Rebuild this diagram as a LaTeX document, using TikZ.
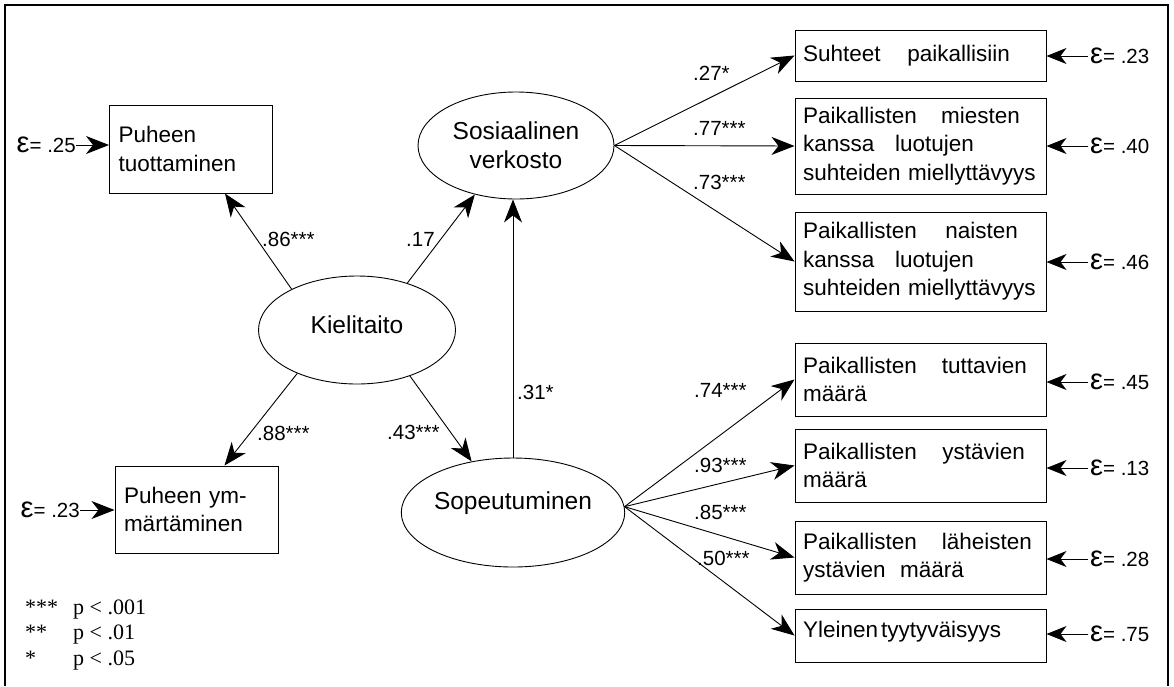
\documentclass[tikz,border=0pt]{standalone}
\usepackage{fontspec}
\setmainfont{Liberation Sans}
\newfontfamily\lserif{Liberation Serif}
\usetikzlibrary{arrows.meta,shapes.geometric,calc}
\newcommand{\epsg}{{\fontsize{29}{29}\selectfont ε}}
\newcommand{\jline}[3]{\makebox[#1][l]{#2\hfill#3}}
\begin{document}
\begin{tikzpicture}[x=1pt,y=-1pt,
  every node/.style={font=\fontsize{22.5}{28.5}\selectfont},
  box/.style={draw, line width=1pt, inner xsep=8pt, inner ysep=0pt, align=left, text width=235pt, minimum width=251pt},
  lbox/.style={draw, line width=1pt, inner xsep=9pt, inner ysep=0pt, align=left, text width=145pt, minimum width=163pt},
  ell/.style={ellipse, draw, line width=0.9pt, inner sep=0pt, minimum width=197pt, minimum height=108pt, align=center, font=\fontsize{24.5}{29}\selectfont},
  lab/.style={anchor=west, inner sep=0pt, font=\fontsize{20.5}{20.5}\selectfont},
  eps/.style={inner sep=0pt, font=\fontsize{20.5}{20.5}\selectfont},
  leg/.style={anchor=base west, inner sep=0pt, font=\lserif\fontsize{22}{22}\selectfont},
  arr/.style={-{Stealth[length=23pt,width=18pt,inset=7pt]}, line width=0.9pt},
  earr/.style={-{Stealth[length=20pt,width=16pt,inset=6pt]}, line width=0.9pt}
]
\path[use as bounding box] (0,0) rectangle (1174,686);
\draw[line width=1.2pt] (5,686) -- (5,5) -- (1168,5) -- (1168,686);

% left boxes
\node[lbox, minimum height=88pt] (tuot) at (191,149) {Puheen\\tuottaminen};
\node[lbox, minimum height=87pt] (ymm) at (196.5,509.5) {Puheen ym-\\märtäminen};

% ellipses
\node[ell] (kiel) at (357,330) {\raisebox{5pt}[\height][\depth]{Kielitaito}};
\node[ell, minimum width=196pt, minimum height=107pt] (sos) at (516,145.5) {Sosiaalinen\\verkosto};
\node[ell, minimum height=109pt] (sop) at (513,512.5) {\raisebox{9pt}[\height][\depth]{Sopeutuminen}};

% right boxes
\node[box, minimum height=51pt] (r1) at (920.5,55.5) {\jline{207pt}{Suhteet}{paikallisiin}};
\node[box, minimum height=96pt] (r2) at (920.5,146) {\jline{217pt}{Paikallisten}{miesten}\\\jline{171pt}{kanssa}{luotujen}\\suhteiden miellyttävyys};
\node[box, minimum height=99pt] (r3) at (920.5,261.5) {\jline{215pt}{Paikallisten}{naisten}\\\jline{171pt}{kanssa}{luotujen}\\suhteiden miellyttävyys};
\node[box, minimum height=73pt] (r4) at (920.5,379.5) {\jline{224pt}{Paikallisten}{tuttavien}\\määrä};
\node[box, minimum height=73pt] (r5) at (920.5,465.5) {\jline{222pt}{Paikallisten}{ystävien}\\määrä};
\node[box, minimum height=73pt] (r6) at (920.5,557.5) {\jline{229pt}{Paikallisten}{läheisten}\\\jline{161pt}{ystävien}{määrä}};
\node[box, minimum height=53pt] (r7) at (920.5,635.5) {\raisebox{4pt}[\height][\depth]{Yleinen\hspace{3pt}tyytyväisyys}};

% structural arrows
\draw[arr] (kiel.148) -- ($(tuot.south west)+(116,0)$);
\draw[arr] (kiel.216) -- ($(ymm.north west)+(110,0)$);
\draw[arr] (kiel.43) -- (sos.230);
\draw[arr] (kiel.319) -- (sop.129);
\draw[arr] (sop.north) -- (sop.north |- sos.south);

\draw[arr] (sos.east) -- (r1.west);
\draw[arr] (sos.east) -- (r2.west);
\draw[arr] (sos.east) -- (r3.west);
\draw[arr] (sop.3) -- (r4.west);
\draw[arr] (sop.3) -- (r5.west);
\draw[arr] (sop.3) -- (r6.west);
\draw[arr] (sop.3) -- (r7.west);

% coefficient labels
\node[lab] (c86) at (262,239) {.86***};
\node[lab] (c17) at (406,239) {.17};
\node[lab] (c88) at (257,433) {.88***};
\node[lab] (c43) at (387,432) {.43***};
\node[lab] (c31) at (517,392) {.31*};
\node[lab] (c27) at (693,73) {.27*};
\node[lab] (c77) at (693,128) {.77***};
\node[lab] (c73) at (693,182) {.73***};
\node[lab] (c74) at (694,390) {.74***};
\node[lab] (c93) at (694,465) {.93***};
\node[lab] (c85) at (694,512) {.85***};
\node[lab] (c50) at (697,558) {.50***};

% left error terms
\node[eps, anchor=east] (el1) at (76,145) {\epsg= .25};
\node[eps, anchor=east] (el2) at (80,510) {\epsg= .23};
\draw[arr] (el1.east) -- (el1.east -| tuot.west);
\draw[arr] (el2.east) -- (el2.east -| ymm.west);

% right error terms
\node[eps, anchor=west] (e1) at (1090,56) {\epsg= .23};
\node[eps, anchor=west] (e2) at (1090,146) {\epsg= .40};
\node[eps, anchor=west] (e3) at (1090,262) {\epsg= .46};
\node[eps, anchor=west] (e4) at (1090,382) {\epsg= .45};
\node[eps, anchor=west] (e5) at (1090,468) {\epsg= .13};
\node[eps, anchor=west] (e6) at (1090,559) {\epsg= .28};
\node[eps, anchor=west] (e7) at (1090,634) {\epsg= .75};
\foreach \i in {1,...,7}{
  \draw[earr] ([xshift=-2pt]e\i.west) -- (e\i.west -| r\i.east);
}

% legend
\node[leg] (l1s) at (25,614) {***};
\node[leg] (l1p) at (73,614) {p < .001};
\node[leg] (l2s) at (25,639) {**};
\node[leg] (l2p) at (73,639) {p < .01};
\node[leg] (l3s) at (25,665) {*};
\node[leg] (l3p) at (73,665) {p < .05};
\end{tikzpicture}
\end{document}
